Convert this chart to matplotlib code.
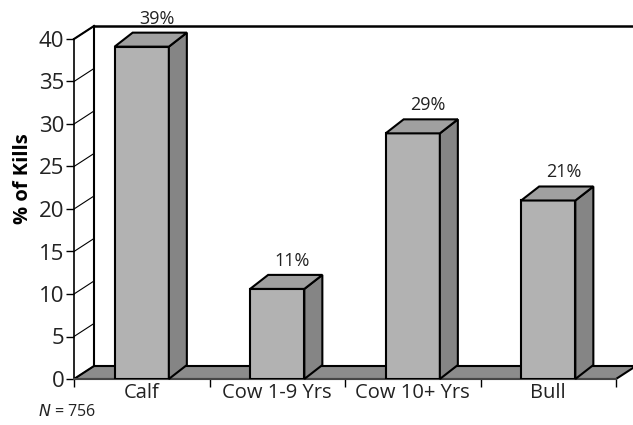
import matplotlib.pyplot as plt
from matplotlib.patches import Polygon

plt.rcParams['font.family'] = ['Open Sans', 'DejaVu Sans']

# data
categories = ['Calf', 'Cow 1-9 Yrs', 'Cow 10+ Yrs', 'Bull']
kills_pct = [39.1, 10.6, 28.9, 21.0]
pct_labels = ['39%', '11%', '29%', '21%']
yticks = [0, 5, 10, 15, 20, 25, 30, 35, 40]

fig = plt.figure(figsize=(6.33, 4.25), dpi=100)
W, H = 633, 425
ax = fig.add_axes([74 / W, (425 - 379) / H, (616 - 74) / W, (379 - 39) / H])
ax.set_xlim(0, len(categories))
ax.set_ylim(0, 40)

# pixel -> data conversion for the fake depth
px_x = len(categories) / (616 - 74)
px_y = 40 / (379 - 39)
WDX, WDY = 20 * px_x, 13 * px_y   # wall / floor depth
BDX, BDY = 18 * px_x, 14 * px_y   # bar depth

# floor
floor = Polygon([(0, 0), (len(categories), 0),
                 (len(categories) + WDX, WDY), (WDX, WDY)],
                closed=True, facecolor='#8c8c8c', edgecolor='black', lw=1.5,
                clip_on=False, zorder=1)
ax.add_patch(floor)

# left wall lines at each tick
for t in yticks:
    ax.plot([0, WDX], [t, t + WDY], color='black', lw=0.8, clip_on=False, zorder=1)
ax.plot([WDX, WDX], [WDY, 40 + WDY], color='black', lw=1.5, clip_on=False, zorder=1)
ax.plot([0, WDX], [40, 40 + WDY], color='black', lw=1.5, clip_on=False, zorder=1)
# back wall top edge
ax.plot([WDX, len(categories) + WDX], [40 + WDY, 40 + WDY], color='black', lw=1.8,
        clip_on=False, zorder=1)

# bars
xs = [i + 0.5 for i in range(len(categories))]
bw = 0.4
ax.bar(xs, kills_pct, width=bw, color='#b2b2b2', edgecolor='black', lw=1.5, zorder=3)
for x, v, lab in zip(xs, kills_pct, pct_labels):
    x0, x1 = x - bw / 2, x + bw / 2
    top = Polygon([(x0, v), (x1, v), (x1 + BDX, v + BDY), (x0 + BDX, v + BDY)],
                  closed=True, facecolor='#a0a0a0', edgecolor='black', lw=1.5,
                  clip_on=False, zorder=3)
    side = Polygon([(x1, 0), (x1, v), (x1 + BDX, v + BDY), (x1 + BDX, BDY)],
                   closed=True, facecolor='#858585', edgecolor='black', lw=1.5,
                   clip_on=False, zorder=3)
    ax.add_patch(side)
    ax.add_patch(top)
    ax.text(x + BDX * 0.85, v + BDY + 0.6, lab, ha='center', va='bottom', fontsize=13,
            color='#222222', clip_on=False)

# axes
for s in ['top', 'right']:
    ax.spines[s].set_visible(False)
ax.spines['left'].set_linewidth(1.2)
ax.spines['bottom'].set_linewidth(1.2)
ax.spines['bottom'].set_color('#555555')
ax.set_yticks(yticks)
ax.set_xticks(range(len(categories) + 1))
ax.set_xticklabels([])
ax.set_xticks(xs, minor=True)
ax.set_xticklabels(categories, minor=True, fontsize=14.5, color='#222222')
ax.tick_params(axis='x', which='minor', length=0, pad=3)
ax.tick_params(axis='x', which='major', length=6, width=1, direction='out')
ax.tick_params(axis='y', length=6, width=1, labelsize=16, pad=1, labelcolor='#222222')
ax.set_ylabel('% of Kills', fontsize=14.5, fontweight='bold')
ax.yaxis.set_label_coords(-0.076, 0.59)
ax.set_facecolor('none')

fig.text(38 / W, 1 - 412 / H, r'$N$ = 756', fontsize=11.5, va='center', ha='left',
         color='#222222')

fig.savefig('out.png', dpi=100)
